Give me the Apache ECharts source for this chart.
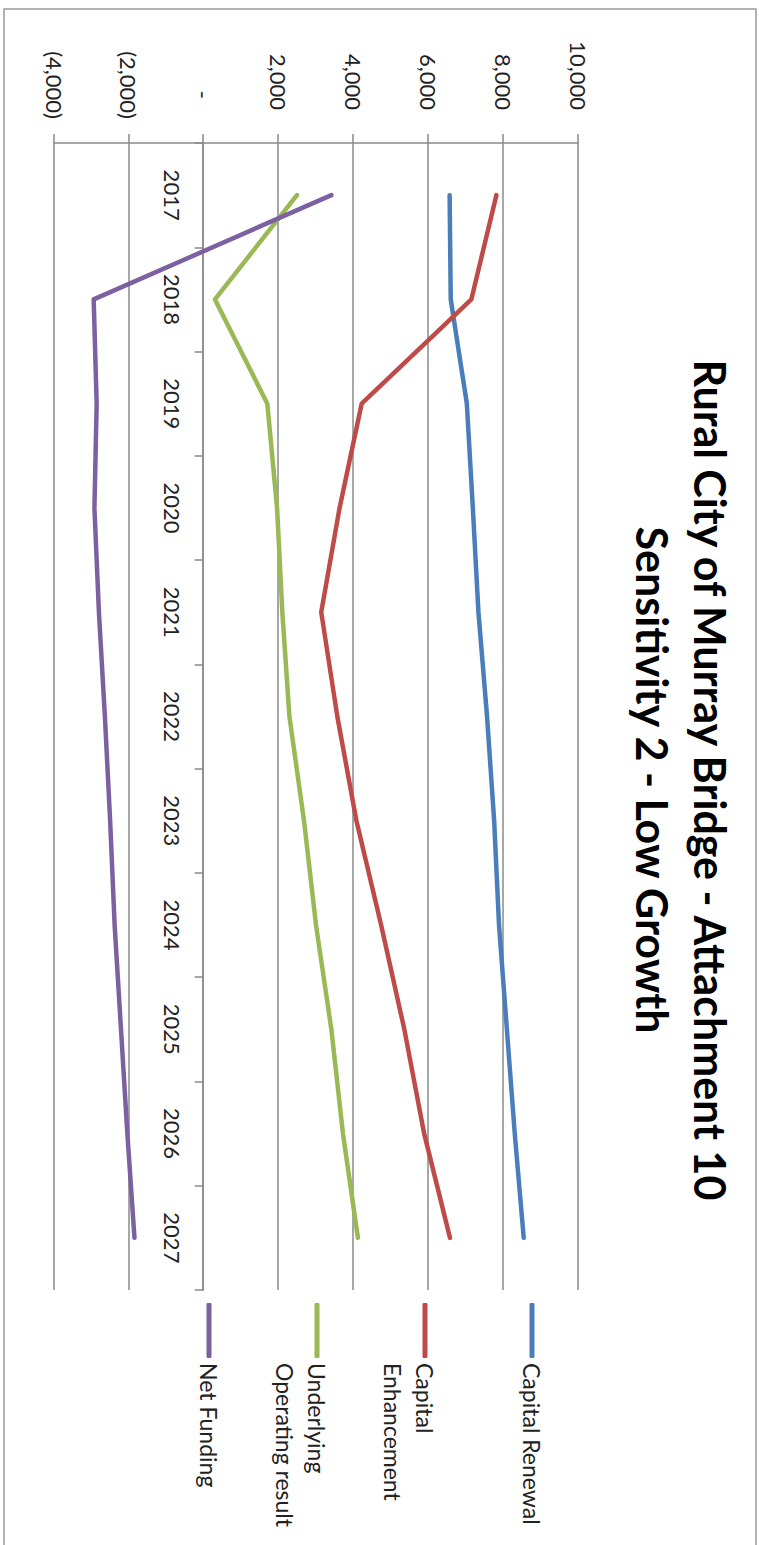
<!DOCTYPE html>
<html>
<head>
<meta charset="utf-8">
<script src="https://cdn.jsdelivr.net/npm/echarts@6/dist/echarts.min.js"></script>
<style>
  html, body { margin: 0; padding: 0; background: #ffffff; overflow: hidden; }
  #chart {
    position: absolute; left: 0; top: 0;
    width: 1545px; height: 759px;
    transform-origin: 0 0;
    transform: translate(759px, 0) rotate(90deg);
  }
</style>
</head>
<body>
<div id="chart"></div>
<script>
const years = ['2017', '2018', '2019', '2020', '2021', '2022', '2023', '2024', '2025', '2026', '2027'];
const capitalRenewal = [6570, 6600, 7030, 7190, 7340, 7570, 7760, 7890, 8100, 8310, 8550];
const capitalEnhancement = [7820, 7150, 4220, 3630, 3140, 3570, 4080, 4740, 5360, 5890, 6580];
const underlyingOperatingResult = [2490, 300, 1700, 1960, 2100, 2290, 2680, 3000, 3410, 3720, 4120];
const netFunding = [3410, -2940, -2860, -2920, -2800, -2640, -2500, -2380, -2210, -2040, -1850];
const seriesNames = ['Capital Renewal', 'Capital Enhancement', 'Underlying Operating result', 'Net Funding'];
const legendTexts = ['Capital Renewal', '\nCapital\nEnhancement', '\nUnderlying\nOperating result', 'Net Funding'];
const titleText = 'Rural City of Murray Bridge - Attachment 10\nSensitivity 2 - Low Growth';
const valueMin = -4000, valueMax = 10000, valueStep = 2000;

const colors = ['#4a7ebb', '#be4b48', '#98b954', '#7d60a0'];
const seriesData = [capitalRenewal, capitalEnhancement, underlyingOperatingResult, netFunding];
const FONT = 'Lato, "Open Sans", sans-serif';
const GRID_COLOR = '#8a8a8a';

const GRID = { left: 143, right: 255, top: 181, bottom: 54 };
const gridHeight = 759 - GRID.top - GRID.bottom;
// place the category axis where the value axis is zero
const zeroOffset = -gridHeight * (0 - valueMin) / (valueMax - valueMin);

function fmtValue(v) {
  if (v === 0) return '{z|-}';
  const s = Math.abs(v).toLocaleString('en-US');
  return v < 0 ? '(' + s + ')' : '{p|' + s + '}';
}

const legendTops = [211, 286, 394, 534];
const legends = seriesNames.map((name, i) => ({
  show: true,
  orient: 'vertical',
  left: 1303,
  top: legendTops[i],
  padding: 0,
  icon: 'roundRect',
  itemWidth: 55,
  itemHeight: 5,
  data: [name],
  selectedMode: false,
  formatter: () => legendTexts[i],
  textStyle: { fontFamily: FONT, fontSize: 23, color: '#222', lineHeight: 32 }
}));

const chart = echarts.init(document.getElementById('chart'), null, { renderer: 'svg' });
chart.setOption({
  animation: false,
  backgroundColor: '#ffffff',
  textStyle: { fontFamily: FONT },
  title: {
    text: titleText,
    left: 780,
    top: 20,
    padding: 0,
    textAlign: 'center',
    textStyle: { fontFamily: FONT, fontSize: 43, fontWeight: 'bold', color: '#000', lineHeight: 58 }
  },
  legend: legends,
  graphic: [{
    type: 'rect',
    shape: { x: 9, y: 3, width: 1600, height: 752 },
    style: { fill: 'none', stroke: '#9a9a9a', lineWidth: 1.5 },
    silent: true
  }],
  grid: { left: GRID.left, right: GRID.right, top: GRID.top, bottom: GRID.bottom, containLabel: false },
  xAxis: {
    type: 'category',
    data: years,
    boundaryGap: true,
    offset: zeroOffset,
    axisLine: { onZero: false, lineStyle: { color: GRID_COLOR, width: 1.5 } },
    axisTick: { show: true, length: 9, lineStyle: { color: GRID_COLOR, width: 1.5 } },
    axisLabel: { margin: 20, fontFamily: FONT, fontSize: 22, color: '#222' }
  },
  yAxis: {
    type: 'value',
    min: valueMin,
    max: valueMax,
    interval: valueStep,
    axisLine: { show: true, lineStyle: { color: GRID_COLOR, width: 1.5 } },
    axisTick: { show: true, length: 9, lineStyle: { color: GRID_COLOR, width: 1.5 } },
    splitLine: { show: true, lineStyle: { color: GRID_COLOR, width: 1.5 } },
    axisLabel: {
      margin: 24,
      fontFamily: FONT, fontSize: 22, color: '#222',
      formatter: fmtValue,
      rich: {
        p: { fontFamily: FONT, fontSize: 22, color: '#222', padding: [0, 9, 0, 0] },
        z: { fontFamily: FONT, fontSize: 22, color: '#222', padding: [0, 20, 0, 0] }
      }
    }
  },
  series: seriesNames.map((name, i) => ({
    name: name,
    type: 'line',
    data: seriesData[i],
    symbol: 'none',
    showSymbol: false,
    smooth: false,
    color: colors[i],
    lineStyle: { color: colors[i], width: 4.5, join: 'round', cap: 'round' },
    emphasis: { disabled: true }
  }))
});
</script>
</body>
</html>
